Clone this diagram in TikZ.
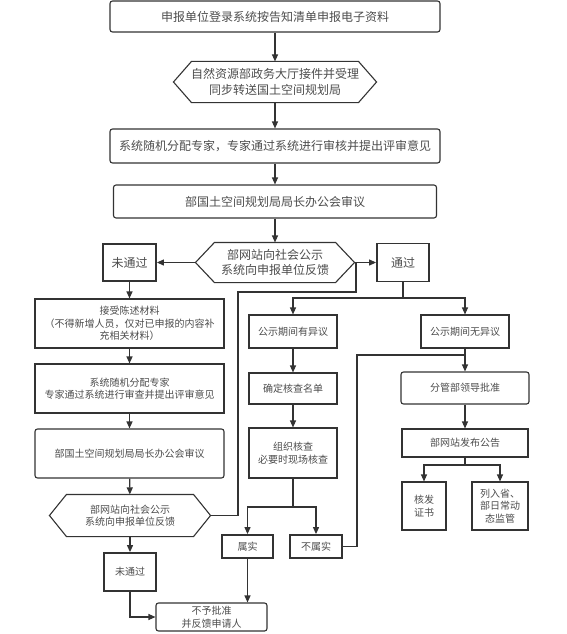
\documentclass[tikz,border=0pt]{standalone}
\usepackage{fontspec}
\setmainfont{Noto Sans CJK SC}
\usetikzlibrary{arrows.meta}

\begin{document}
\begin{tikzpicture}[x=1pt, y=-1pt, line width=1.1pt, color=black!80,
    >={Triangle[length=7pt,width=6pt]},
    base/.style={draw, text=black!70, inner sep=0pt, align=center},
    big/.style={base, font=\fontsize{12}{15.5}\selectfont},
    small/.style={base, font=\fontsize{10}{12.5}\selectfont},
    round/.style={rounded corners=2.5pt},
    thick box/.style={line width=1.8pt},
    hexa/.style={draw=none}]
  \useasboundingbox (0,0) rectangle (567,634);
  \draw
    (275,16.5) node[big, round, minimum width=330pt, minimum height=31pt] (m0){申报单位登录系统按告知清单申报电子资料}
    (275,82) node[big, hexa, minimum width=202pt, minimum height=40pt] (m1){自然资源部政务大厅接件并受理\\同步转送国土空间规划局}
    (275,146) node[big, round, minimum width=330pt, minimum height=34pt] (m2){系统随机分配专家，专家通过系统进行审核并提出评审意见}
    (275,201.5) node[big, round, minimum width=323pt, minimum height=33pt] (m3){部国土空间规划局局长办公会审议}
    (275,262.5) node[big, hexa, minimum width=158pt, minimum height=39pt] (m4){部网站向社会公示\\系统向申报单位反馈}
    (129.5,262.5) node[big, thick box, minimum width=53pt, minimum height=37pt] (l0){未通过}
    (403,262.5) node[big, thick box, minimum width=52pt, minimum height=38pt] (r0){通过}
    (129.5,323.5) node[small, minimum width=189pt, minimum height=49pt] (l1){接受陈述材料\\（不得新增人员，仅对已申报的内容补\\充相关材料）}
    (129.5,388.5) node[small, minimum width=189pt, minimum height=49pt] (l2){系统随机分配专家\\专家通过系统进行审查并提出评审意见}
    (129.5,453.5) node[small, round, minimum width=189pt, minimum height=49pt] (l3){部国土空间规划局局长办公会审议}
    (130,515.5) node[small, hexa, minimum width=160pt, minimum height=41pt] (l4){部网站向社会公示\\系统向申报单位反馈}
    (130,572) node[small, thick box, minimum width=52pt, minimum height=38pt] (l5){未通过}
    (211.5,617) node[small, round, minimum width=111pt, minimum height=28pt] (l6){不予批准\\并反馈申请人}
    (293,331.5) node[small, minimum width=88pt, minimum height=33pt] (c1){公示期间有异议}
    (293,388.5) node[small, minimum width=88pt, minimum height=31pt] (c2){确定核查名单}
    (293,453) node[small, minimum width=88pt, minimum height=50pt] (c3){组织核查\\必要时现场核查}
    (247.5,546.5) node[small, thick box, minimum width=51pt, minimum height=23pt] (c4){属实}
    (316,546.5) node[small, thick box, minimum width=52pt, minimum height=23pt] (c5){不属实}
    (465,331.5) node[small, minimum width=88pt, minimum height=33pt] (r1){公示期间无异议}
    (465,388) node[small, round, minimum width=128pt, minimum height=32pt] (r2){分管部领导批准}
    (465,443) node[small, minimum width=126pt, minimum height=28pt] (r3){部网站发布公告}
    (424,506) node[small, minimum width=44pt, minimum height=48pt] (r4){核发\\证书}
    (500,506) node[small, minimum width=56pt, minimum height=48pt] (r5){列入省、\\部日常动\\态监管};
  % hexagon outlines round the three notice nodes
  \foreach \h/\d in {m1/18pt, m4/19pt, l4/17pt}
    \draw (\h.west) -- ([xshift=\d]\h.north west) -- ([xshift=-\d]\h.north east)
      -- (\h.east) -- ([xshift=-\d]\h.south east) -- ([xshift=\d]\h.south west) -- cycle;
  \coordinate (b0) at (403,298);
  \coordinate (b1) at (293,507);
  \coordinate (b2) at (465,465);
  \coordinate (j1) at (238,292);
  \coordinate (j2) at (356,292);
  \coordinate (j3) at (356,262.5);
  \coordinate (k1) at (357,355);
  \coordinate (k2) at (465,355);
  \begin{scope}[->]
    \draw (m0) to (m1);
    \draw (m1) to (m2);
    \draw (m2) to (m3);
    \draw (m3) to (m4);
    \draw (m4) to (l0);
    \draw (m4) to (r0);
    \draw (l0) to (l1);
    \draw (l1) to (l2);
    \draw (l2) to (l3);
    \draw (l3) to (l4);
    \draw (l4) to (l5);
    \draw (l5) |- (l6);
    \draw (b0) -| (c1);
    \draw (b0) -| (r1);
    \draw (c1) to (c2);
    \draw (c2) to (c3);
    \draw (b1) -| (c4);
    \draw (b1) -| (c5);
    \draw (c4) to (c4 |- l6.north);
    \draw (r1) to (r2);
    \draw (r2) to (r3);
    \draw (b2) -| (r4);
    \draw (b2) -| (r5);
  \end{scope}
  \begin{scope}[-]
    \draw (r0) to (b0);
    \draw (c3) to (b1);
    \draw (r3) to (b2);
    \draw (l4) -| (j1) -- (j2) -- (j3);
    \draw (c5) -| (k1) -- (k2);
  \end{scope}
\end{tikzpicture}
\end{document}
